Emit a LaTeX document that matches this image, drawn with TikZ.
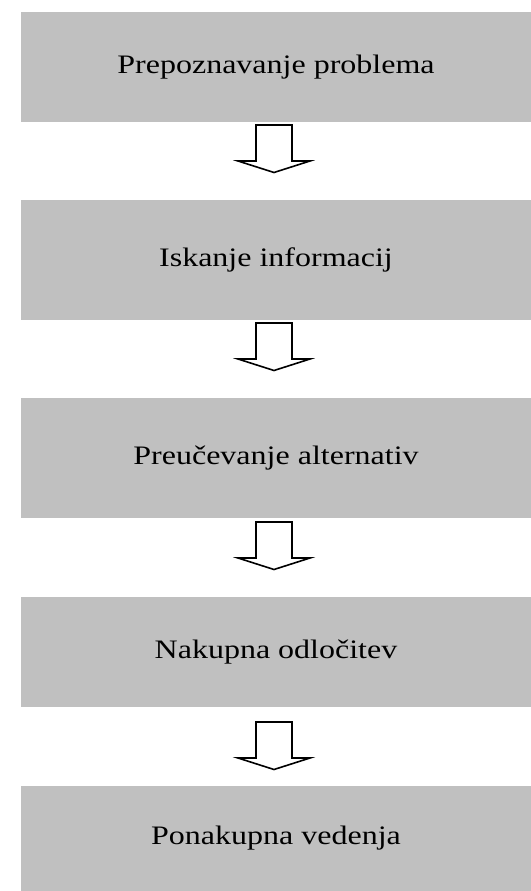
\documentclass[tikz,border=0pt]{standalone}
\usepackage{fontspec}
\setmainfont{Liberation Serif}[FakeStretch=1.2]
\definecolor{boxgray}{HTML}{C0C0C0}
\begin{document}
\begin{tikzpicture}[x=0.75pt,y=-0.75pt,
  stepbox/.style={fill=boxgray,draw=none,minimum width=382.5pt,inner sep=0pt,
    font=\fontsize{20pt}{24pt}\selectfont,text=black},
  blockarr/.style={draw=black,fill=white,line width=1.2pt,line join=miter}]
\useasboundingbox[fill=white] (0,0) rectangle (531,891);
\node[stepbox,minimum height=82.5pt] (b1) at (276,67) {Prepoznavanje problema};
\node[stepbox,minimum height=90pt] (b2) at (276,260) {Iskanje informacij};
\node[stepbox,minimum height=90pt] (b3) at (276,458) {Preučevanje alternativ};
\node[stepbox,minimum height=82.5pt] (b4) at (276,652) {Nakupna odločitev};
\node[stepbox,minimum height=78.75pt] (b5) at (276,838.5) {Ponakupna vedenja};
\coordinate (a1) at (274,125);
\coordinate (a2) at (274,323);
\coordinate (a3) at (274,522);
\coordinate (a4) at (274,722);
\foreach \a in {a1,a2,a3,a4}{
  \draw[blockarr] (\a) ++(-18,0) -- ++(0,36) -- ++(-18,0) -- ++(36,11.5) -- ++(36,-11.5) -- ++(-18,0) -- ++(0,-36) -- cycle;
}
\end{tikzpicture}
\end{document}
